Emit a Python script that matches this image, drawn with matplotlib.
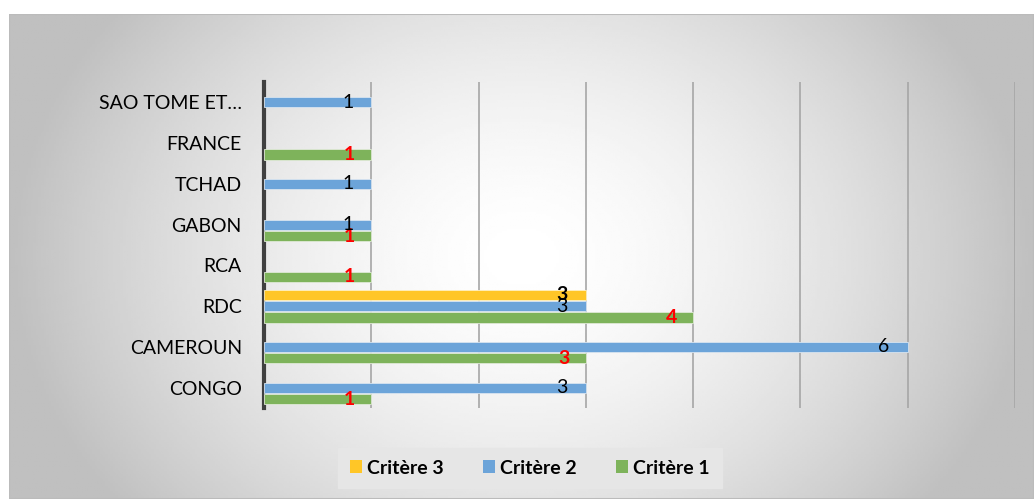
import matplotlib.pyplot as plt
import numpy as np
from matplotlib.patches import Patch, Rectangle

plt.rcParams['font.family'] = ['Lato', 'DejaVu Sans']

categories = ['CONGO', 'CAMEROUN', 'RDC', 'RCA', 'GABON', 'TCHAD', 'FRANCE', 'SAO TOME ET…']
crit1 = [1, 3, 4, 1, 1, np.nan, 1, np.nan]
crit2 = [3, 6, 3, np.nan, 1, 1, np.nan, 1]
crit3 = [np.nan, np.nan, 3, np.nan, np.nan, np.nan, np.nan, np.nan]

c_yellow = '#FFC627'
c_blue = '#6CA4D9'
c_green = '#7EB35B'

fig = plt.figure(figsize=(10.34, 4.99), dpi=100)

# gradient background of the chart area
bg = fig.add_axes([9/1034, 0, 1 - 9/1034, 1 - 14/499])
gx = np.linspace(-1, 1, 400)
gy = np.linspace(-1, 1, 200)
X, Y = np.meshgrid(gx, gy)
R = np.clip(np.sqrt(X**2 * 1.0 + Y**2 * 0.35), 0, 1)
bg.imshow(1 - 0.25 * R**1.6, cmap='gray', vmin=0, vmax=1, aspect='auto',
          extent=[0, 1, 0, 1])
bg.add_patch(Rectangle((0, 0), 1, 1, fill=False, edgecolor='#bbbbbb', lw=1.5,
                       transform=bg.transAxes))
bg.set_axis_off()

ax = fig.add_axes([264/1034, 1 - 408/499, 751/1034, 326/499])
ax.patch.set_alpha(0)

y = np.arange(len(categories))
h = 0.25
off = 0.28
ax.barh(y - off, crit1, height=h, color=c_green, edgecolor='#dfe9d6', lw=0.6, zorder=3)
ax.barh(y, crit2, height=h, color=c_blue, edgecolor='#d8e4f0', lw=0.6, zorder=3)
ax.barh(y + off, crit3, height=h, color=c_yellow, edgecolor='#fff0c0', lw=0.6, zorder=3)

for i in range(len(categories)):
    if not np.isnan(crit1[i]):
        ax.text(crit1[i] - 0.2, y[i] - off, str(int(crit1[i])), color='red',
                fontsize=14, fontweight='bold', ha='center', va='center', zorder=4)
    if not np.isnan(crit2[i]):
        ax.text(crit2[i] - 0.22, y[i], str(int(crit2[i])), color='black',
                fontsize=14, ha='center', va='center', zorder=4)
    if not np.isnan(crit3[i]):
        ax.text(crit3[i] - 0.22, y[i] + off, str(int(crit3[i])), color='black',
                fontsize=14, fontweight='bold', ha='center', va='center', zorder=4)

ax.set_xlim(0, 7)
ax.set_ylim(-0.5, len(categories) - 0.5)
ax.set_xticks(range(1, 8))
ax.set_xticklabels([])
ax.tick_params(axis='x', length=0)
ax.set_yticks(y)
ax.set_yticklabels(categories, fontsize=14)
ax.tick_params(axis='y', length=0, pad=16)
ax.grid(axis='x', color='#a6a6a6', lw=1.2, zorder=1)
for s in ['top', 'right', 'bottom']:
    ax.spines[s].set_visible(False)
ax.spines['left'].set_color('#404040')
ax.spines['left'].set_linewidth(3)

handles = [Patch(facecolor=c_yellow, label='Critère 3'),
           Patch(facecolor=c_blue, label='Critère 2'),
           Patch(facecolor=c_green, label='Critère 1')]
leg = fig.legend(handles=handles, loc='center', bbox_to_anchor=(530/1034, 1 - 468/499),
                 ncol=3, frameon=True, fancybox=False, prop={'weight': 'bold', 'size': 14},
                 handlelength=0.6, handleheight=0.6, handletextpad=0.3, columnspacing=2.0,
                 borderpad=0.6, borderaxespad=0)
leg.get_frame().set_facecolor('#e6e6e6')
leg.get_frame().set_edgecolor('#e6e6e6')
leg.get_frame().set_alpha(1)

fig.savefig('out.png', dpi=100)
